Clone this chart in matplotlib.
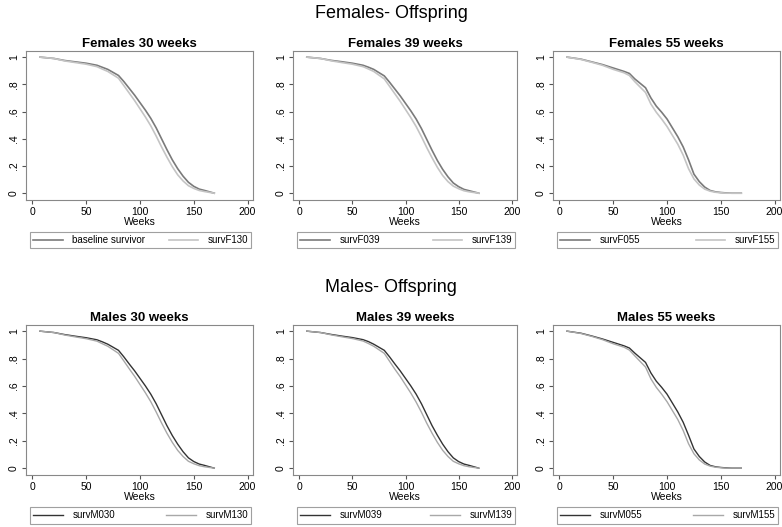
import numpy as np
import matplotlib
matplotlib.use("Agg")
import matplotlib.pyplot as plt

plt.rcParams['font.family'] = ['Liberation Sans', 'DejaVu Sans']

weeks = [7, 20, 30, 40, 50, 60, 65, 70, 80, 85, 90, 95, 100, 105, 110, 115,
         120, 125, 130, 135, 140, 145, 150, 155, 160, 169]

# females
survF030 = [1.0, 0.99, 0.975, 0.965, 0.955, 0.94, 0.925, 0.91, 0.865, 0.82, 0.77, 0.72, 0.665,
            0.61, 0.55, 0.48, 0.40, 0.32, 0.245, 0.18, 0.125, 0.08, 0.05, 0.03, 0.02, 0.0]
survF130 = [1.0, 0.99, 0.972, 0.96, 0.948, 0.93, 0.912, 0.895, 0.845, 0.79, 0.735, 0.68, 0.62,
            0.56, 0.495, 0.42, 0.34, 0.265, 0.195, 0.135, 0.09, 0.055, 0.035, 0.02, 0.012, 0.0]
survF039 = [1.0, 0.99, 0.976, 0.966, 0.955, 0.94, 0.926, 0.91, 0.862, 0.815, 0.765, 0.715, 0.66,
            0.605, 0.545, 0.475, 0.395, 0.315, 0.24, 0.175, 0.12, 0.075, 0.048, 0.028, 0.018, 0.0]
survF139 = [1.0, 0.99, 0.973, 0.96, 0.948, 0.93, 0.913, 0.895, 0.84, 0.785, 0.73, 0.675, 0.615,
            0.555, 0.49, 0.415, 0.335, 0.26, 0.19, 0.13, 0.085, 0.052, 0.033, 0.018, 0.01, 0.0]
survF055 = [1.0, 0.985, 0.965, 0.945, 0.92, 0.895, 0.88, 0.84, 0.775, 0.70, 0.64, 0.595, 0.545,
            0.48, 0.415, 0.34, 0.245, 0.14, 0.085, 0.045, 0.02, 0.01, 0.005, 0.002, 0.0, 0.0]
survF155 = [1.0, 0.983, 0.962, 0.94, 0.91, 0.885, 0.865, 0.82, 0.74, 0.655, 0.595, 0.545, 0.49,
            0.425, 0.36, 0.28, 0.18, 0.105, 0.06, 0.03, 0.015, 0.007, 0.003, 0.0, 0.0, 0.0]

# males
survM030 = [1.0, 0.99, 0.975, 0.963, 0.952, 0.937, 0.922, 0.905, 0.86, 0.812, 0.76, 0.71, 0.655,
            0.60, 0.54, 0.47, 0.39, 0.31, 0.238, 0.175, 0.12, 0.075, 0.048, 0.03, 0.02, 0.0]
survM130 = [1.0, 0.99, 0.972, 0.958, 0.945, 0.927, 0.908, 0.89, 0.838, 0.782, 0.725, 0.67, 0.61,
            0.55, 0.485, 0.41, 0.33, 0.255, 0.188, 0.13, 0.085, 0.05, 0.032, 0.018, 0.01, 0.0]
survM039 = [1.0, 0.99, 0.976, 0.964, 0.953, 0.938, 0.924, 0.905, 0.86, 0.812, 0.76, 0.71, 0.655,
            0.60, 0.54, 0.47, 0.39, 0.31, 0.24, 0.175, 0.12, 0.075, 0.048, 0.03, 0.02, 0.0]
survM139 = [1.0, 0.99, 0.973, 0.959, 0.946, 0.928, 0.91, 0.89, 0.838, 0.78, 0.722, 0.668, 0.608,
            0.548, 0.482, 0.408, 0.328, 0.255, 0.188, 0.13, 0.085, 0.05, 0.032, 0.018, 0.01, 0.0]
survM055 = [1.0, 0.985, 0.965, 0.943, 0.918, 0.893, 0.877, 0.84, 0.772, 0.695, 0.635, 0.59, 0.54,
            0.475, 0.41, 0.335, 0.24, 0.14, 0.085, 0.045, 0.02, 0.01, 0.005, 0.002, 0.0, 0.0]
survM155 = [1.0, 0.983, 0.962, 0.938, 0.908, 0.883, 0.862, 0.82, 0.738, 0.652, 0.59, 0.54, 0.485,
            0.42, 0.355, 0.275, 0.178, 0.105, 0.06, 0.03, 0.015, 0.007, 0.003, 0.0, 0.0, 0.0]

panels = [
    ("Females 30 weeks", survF030, survF130, "baseline survivor", "survF130"),
    ("Females 39 weeks", survF039, survF139, "survF039", "survF139"),
    ("Females 55 weeks", survF055, survF155, "survF055", "survF155"),
    ("Males 30 weeks", survM030, survM130, "survM030", "survM130"),
    ("Males 39 weeks", survM039, survM139, "survM039", "survM139"),
    ("Males 55 weeks", survM055, survM155, "survM055", "survM155"),
]

W, H = 782, 527
fig = plt.figure(figsize=(W / 100, H / 100), dpi=100)

lefts = [26, 293, 553]
widths = [227, 224, 227]
rows = [(51, 200), (325, 475)]

for i, (title, s0, s1, l0, l1) in enumerate(panels):
    r, c = divmod(i, 3)
    top, bot = rows[r]
    ax = fig.add_axes([lefts[c] / W, 1 - bot / H, widths[c] / W, (bot - top) / H])
    if r == 0:
        c0, c1, lw = '#7a7a7a', '#c4c4c4', 1.2
    else:
        c0, c1, lw = '#333333', '#a8a8a8', 1.0
    ax.plot(weeks, s0, color=c0, lw=lw, label=l0)
    ax.plot(weeks, s1, color=c1, lw=lw, label=l1)
    ax.set_xlim(-6, 205)
    ax.set_ylim(-0.05, 1.045)
    ax.set_xticks([0, 50, 100, 150, 200])
    ax.set_yticks([0, 0.2, 0.4, 0.6, 0.8, 1.0])
    ax.set_yticklabels(['0', '.2', '.4', '.6', '.8', '1'], rotation=90, va='center')
    ax.tick_params(labelsize=7.5, length=3, color='#555555', pad=2)
    for sp in ax.spines.values():
        sp.set_color('#888888')
        sp.set_linewidth(0.8)
    ax.set_xlabel("Weeks", fontsize=7.5, labelpad=0)
    ax.set_title(title, fontsize=9.5, fontweight='bold', pad=3)
    leg = ax.legend(loc='lower left', bbox_to_anchor=(0.018, -0.325, 0.975, 0.12),
                    mode='expand', ncol=2, fontsize=7, frameon=True, fancybox=False,
                    handlelength=3.0, handletextpad=1.0, columnspacing=1.0,
                    borderaxespad=0, borderpad=0.35)
    leg.get_frame().set_edgecolor('#888888')
    leg.get_frame().set_linewidth(0.8)

fig.text(0.5, 1 - 14 / H, "Females- Offspring", ha='center', va='center', fontsize=13)
fig.text(0.5, 1 - 288 / H, "Males- Offspring", ha='center', va='center', fontsize=13)

fig.savefig("out.png", dpi=100)
plt.close()
